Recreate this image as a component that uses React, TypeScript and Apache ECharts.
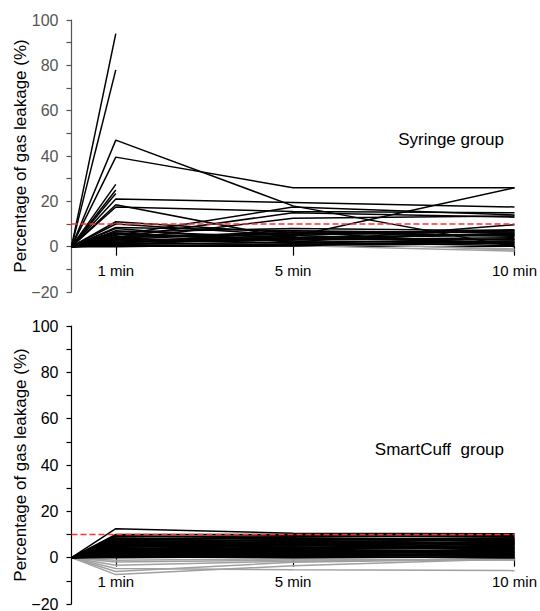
import React, { useEffect, useRef } from "react";
import * as echarts from "echarts";

// Time points (minutes) at which leakage was measured; every row starts at 0 % at time 0
const timePoints = [0, 1, 5, 10];
const timeTickValues = [1, 5, 10];
const thresholdPercent = 10;
const groupLabels = ["Syringe group", "SmartCuff  group"];
const yAxisTitle = "Percentage of gas leakage (%)";

// Syringe group: leakage (%) at 0, 1, 5, 10 min (null = no measurement)
const syringeLeakage: (number | null)[][] = [
  [0, 94, null, null],
  [0, 78, null, null],
  [0, 47, 18, 0],
  [0, 39.5, 26, 26],
  [0, 27.5, null, null],
  [0, 25, null, null],
  [0, 23.5, null, null],
  [0, 21, 19.5, 17.5],
  [0, 18.5, 3.5, 3],
  [0, 17.5, 15.5, 15],
  [0, 11, 6, 5],
  [0, 10, 5, 7],
  [0, 8.5, 7, 6],
  [0, 8, 2, 9.7],
  [0, 7, 4, 5.5],
  [0, 6, 3, 4],
  [0, 5, 17.5, 14],
  [0, 4, 15, 13],
  [0, 3, 12.5, 13.5],
  [0, 2, 4.5, 26],
  [0, 6.5, 8, 7],
  [0, 5.5, 2.5, 2],
  [0, 4.5, 6, 6.5],
  [0, 3.5, 1.5, 3.5],
  [0, 3, 7, 4.5],
  [0, 2.5, 5, 1],
  [0, 2, 3, 6],
  [0, 1.5, 1, 2.5],
  [0, 1, 2, 0.5],
  [0, 0.5, 0.5, 1.5],
  [0, 1, 4, 5],
  [0, 0, 1, 2],
  [0, 4, 5.5, 7.5],
  [0, 3, 3.5, 3],
  [0, 1.5, 6.5, 1],
  [0, 2, 2.5, -1.5],
  [0, 1, 0.5, -2],
  [0, 0.5, 1.5, -1],
];

// SmartCuff group: leakage (%) at 0, 1, 5, 10 min
const smartCuffLeakage: (number | null)[][] = [
  [0, 12.5, 10.5, 10.3],
  [0, 10, 10, 10],
  [0, 9, 9.5, 9],
  [0, 8.5, 8, 8.5],
  [0, 8, 7, 7.5],
  [0, 7.5, 8.5, 8],
  [0, 7, 6, 7],
  [0, 7, 7.5, 6],
  [0, 6.5, 5, 6.5],
  [0, 6, 6.5, 5.5],
  [0, 6, 4, 5],
  [0, 5.5, 5.5, 4.5],
  [0, 5.5, 7, 6],
  [0, 5, 4.5, 4],
  [0, 5, 3.5, 5.5],
  [0, 4.5, 6, 3.5],
  [0, 4.5, 5, 7],
  [0, 4, 3, 3],
  [0, 4, 4, 4.5],
  [0, 3.5, 2.5, 2.5],
  [0, 3.5, 5.5, 3],
  [0, 3, 3.5, 4],
  [0, 3, 2, 2],
  [0, 2.5, 3, 1.5],
  [0, 2.5, 1.5, 3.5],
  [0, 2, 2.5, 2.5],
  [0, 2, 1, 1],
  [0, 1.5, 2, 0.5],
  [0, 1.5, 0.5, 2],
  [0, 1, 1.5, 1.5],
  [0, 1, 0.5, 0],
  [0, 0.5, 1, 1],
  [0, 0.5, 0, 0.5],
  [0, 0, 0.5, 0],
  [0, 8, 9, 9.5],
  [0, 9.5, 8.5, 7],
  [0, 6.5, 7.5, 8.5],
  [0, 3, 6, 6.5],
  [0, 2, 4.5, 5],
  [0, 4, 2, 1],
  [0, 1, 3, 2.5],
  [0, 5, 6.5, 8],
  [0, 7.5, 6, 4],
  [0, 6, 8, 7.5],
  [0, 2.5, 4, 6],
  [0, -1.1, -0.5, -1],
  [0, -1.9, -1, -1],
  [0, -3.3, -1.5, -0.5],
  [0, -4.7, -5.2, -5.6],
  [0, -6, -2, -0.5],
  [0, -7.3, -3.5, -0.5],
];

const FONT = "'Liberation Sans', Arial, Helvetica, sans-serif";

function buildSeries(rows: (number | null)[][], idx: number) {
  return rows.map((row) => {
    const pts = row
      .map((v, i) => (v === null ? null : [timePoints[i], v]))
      .filter((p) => p !== null) as number[][];
    const negative = pts.some((p) => p[1] < 0);
    return {
      type: "line",
      xAxisIndex: idx,
      yAxisIndex: idx,
      data: pts,
      symbol: "none",
      showSymbol: false,
      silent: true,
      z: negative ? 2 : 3,
      lineStyle: { color: negative ? "#a0a0a0" : "#000000", width: 1.5 },
    };
  });
}

function thresholdSeries(idx: number) {
  return {
    type: "line",
    xAxisIndex: idx,
    yAxisIndex: idx,
    data: [
      [timePoints[0], thresholdPercent],
      [timePoints[timePoints.length - 1], thresholdPercent],
    ],
    symbol: "none",
    silent: true,
    z: 5,
    lineStyle: { color: "#ff3030", width: 1.3, type: [6, 3] },
  };
}

function xAxis(idx: number, labelMargin: number) {
  return {
    type: "value",
    gridIndex: idx,
    min: 0,
    max: 10,
    axisLine: { show: true, onZero: true, lineStyle: { color: "#000", width: 1 } },
    axisTick: {
      show: true,
      customValues: timeTickValues,
      length: 9,
      inside: false,
      lineStyle: { color: "#000", width: 1.2 },
    },
    axisLabel: {
      show: true,
      customValues: timeTickValues,
      formatter: (v: number) => `${v} min`,
      margin: labelMargin,
      fontSize: 15,
      color: "#000",
      fontFamily: FONT,
    },
    splitLine: { show: false },
  };
}

function yAxis(idx: number, color: string) {
  return {
    type: "value",
    gridIndex: idx,
    min: -20,
    max: 100,
    interval: 20,
    name: yAxisTitle,
    nameLocation: "middle",
    nameGap: 43,
    nameMoveOverlap: false,
    nameTextStyle: { fontSize: 17, color: "#000", fontFamily: FONT },
    axisLine: { show: true, onZero: false, lineStyle: { color, width: 1.2 } },
    axisTick: { show: true, length: 5, lineStyle: { color, width: 1.2 } },
    minorTick: { show: true, splitNumber: 2, length: 5, lineStyle: { color, width: 1.2 } },
    axisLabel: {
      fontSize: 16,
      color,
      margin: 13,
      fontFamily: FONT,
      formatter: (v: number) => String(v).replace("-", "\u2212"),
    },
    splitLine: { show: false },
    minorSplitLine: { show: false },
  };
}

export default function App() {
  const ref = useRef<HTMLDivElement>(null);
  useEffect(() => {
    if (!ref.current) return;
    const chart = echarts.init(ref.current, undefined, { renderer: "svg" });
    chart.setOption({
      animation: false,
      backgroundColor: "#ffffff",
      grid: [
        { left: 71.5, top: 20, width: 443, height: 272, outerBoundsMode: "none", containLabel: false },
        { left: 71.5, top: 326, width: 443, height: 278, outerBoundsMode: "none", containLabel: false },
      ],
      xAxis: [xAxis(0, -29.5), xAxis(1, -30)],
      yAxis: [yAxis(0, "#555555"), yAxis(1, "#000000")],
      series: [
        ...buildSeries(syringeLeakage, 0),
        thresholdSeries(0),
        ...buildSeries(smartCuffLeakage, 1),
        thresholdSeries(1),
      ],
      graphic: [
        {
          type: "text",
          right: 36,
          top: 131,
          style: { text: groupLabels[0], fontSize: 17, fill: "#000", fontFamily: FONT },
        },
        {
          type: "text",
          right: 36,
          top: 441,
          style: { text: groupLabels[1], fontSize: 17, fill: "#000", fontFamily: FONT },
        },
      ],
    });
    return () => chart.dispose();
  }, []);
  return (
    <div
      ref={ref}
      style={{ position: "absolute", left: 0, top: 0, width: 540, height: 611 }}
    />
  );
}
